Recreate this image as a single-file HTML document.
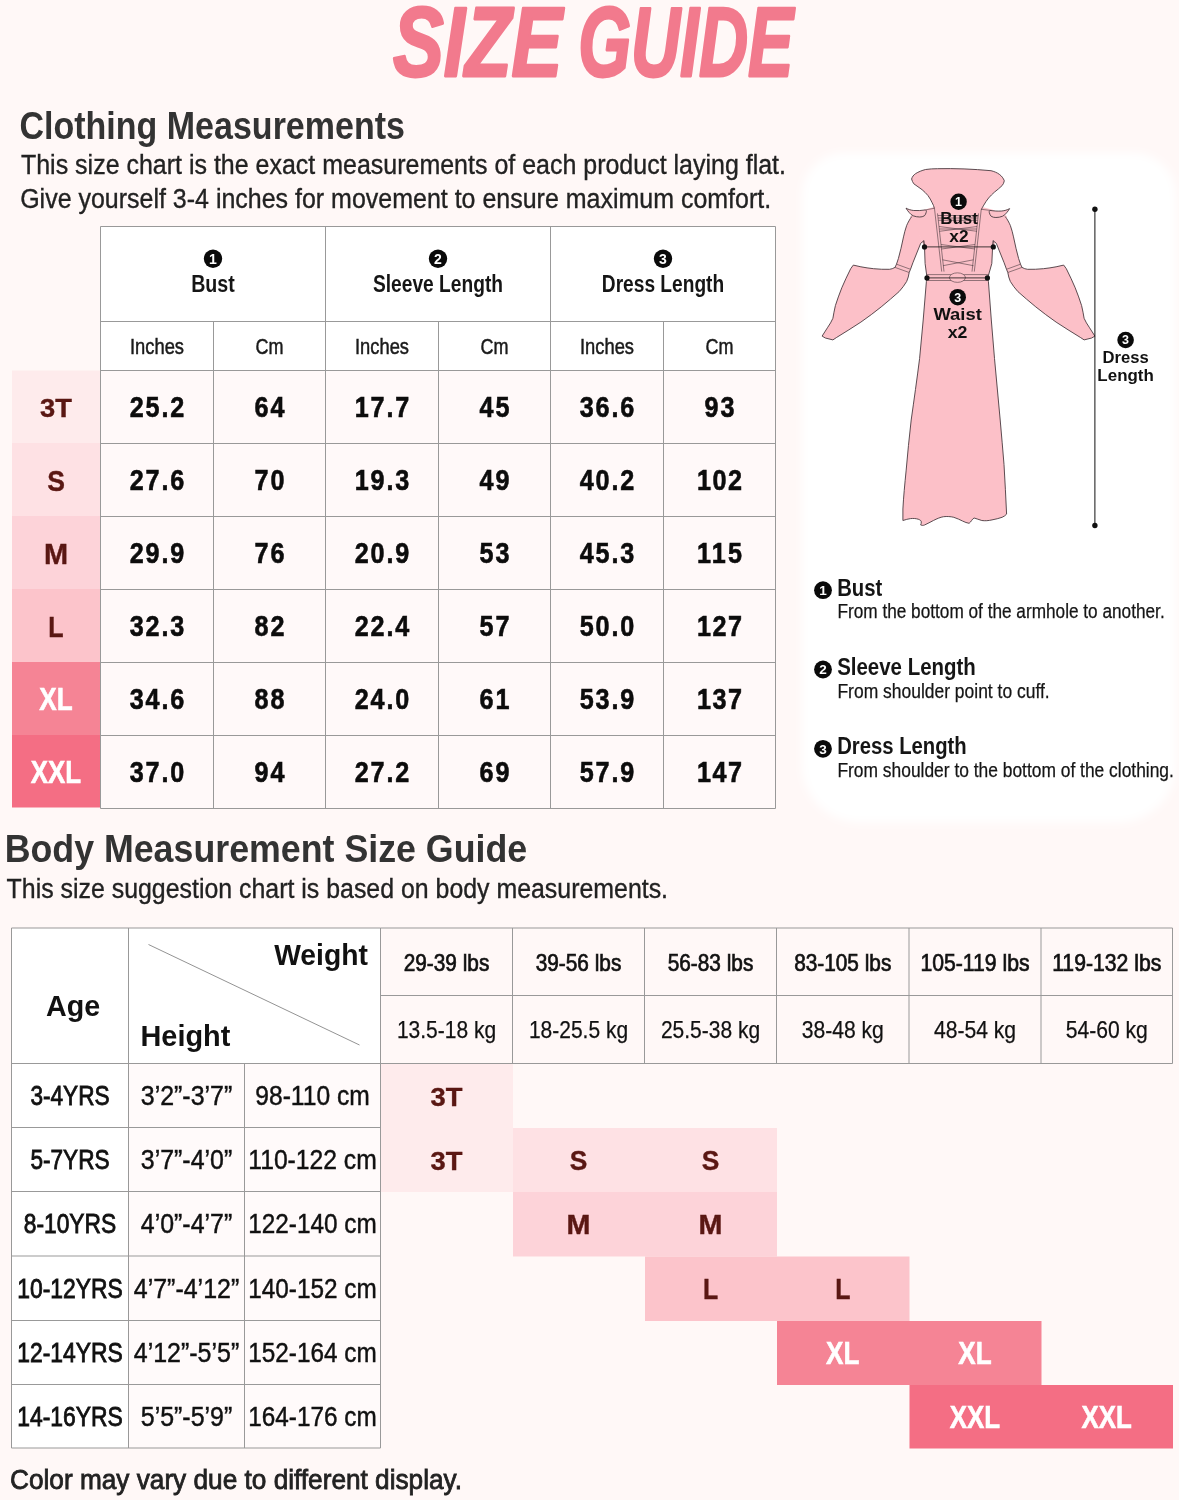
<!DOCTYPE html>
<html lang="en"><head><meta charset="utf-8"><title>Size Guide</title>
<style>
html,body{margin:0;padding:0;background:#fff8f7;}
svg{display:block;font-family:"Liberation Sans",sans-serif;}
text{white-space:pre;}
</style></head><body>
<svg width="1179" height="1500" viewBox="0 0 1179 1500">
<defs><filter id="blur" x="-10%" y="-10%" width="120%" height="120%"><feGaussianBlur stdDeviation="4.5"/></filter></defs>
<rect x="0" y="0" width="1179.00" height="1500.00" fill="#fff8f7" />
<text x="392.96" y="75.60" font-size="99" font-weight="700" text-anchor="start" fill="#f27a8d" textLength="169.21" lengthAdjust="spacingAndGlyphs" font-style="italic" stroke="#f27a8d" stroke-width="2.8" stroke-linejoin="round">SIZE</text>
<text x="578.16" y="75.60" font-size="99" font-weight="700" text-anchor="start" fill="#f27a8d" textLength="215.21" lengthAdjust="spacingAndGlyphs" font-style="italic" stroke="#f27a8d" stroke-width="2.8" stroke-linejoin="round">GUIDE</text>
<text x="19.49" y="138.50" font-size="38.5" font-weight="700" text-anchor="start" fill="#333" textLength="385.46" lengthAdjust="spacingAndGlyphs">Clothing Measurements</text>
<text x="20.98" y="174.00" font-size="27" font-weight="400" text-anchor="start" fill="#222" textLength="765.03" lengthAdjust="spacingAndGlyphs" stroke="#222" stroke-width="0.35">This size chart is the exact measurements of each product laying flat.</text>
<text x="20.18" y="208.00" font-size="27" font-weight="400" text-anchor="start" fill="#222" textLength="750.93" lengthAdjust="spacingAndGlyphs" stroke="#222" stroke-width="0.35">Give yourself 3-4 inches for movement to ensure maximum comfort.</text>
<path d="M844,153 H1134 A42,42 0 0 1 1176,195 V764.5 A58,58 0 0 1 1118,822.5 H860 A58,58 0 0 1 802,764.5 V195 A42,42 0 0 1 844,153 Z" fill="#ffffff" filter="url(#blur)"/>
<rect x="100.5" y="226.5" width="675.00" height="144.00" fill="#ffffff" />
<rect x="100.5" y="370.5" width="675.00" height="438.00" fill="#fff9f9" />
<rect x="12" y="370.5" width="88.00" height="72.50" fill="#feebec" />
<rect x="12" y="443.0" width="88.00" height="73.00" fill="#fee1e4" />
<rect x="12" y="516.0" width="88.00" height="73.00" fill="#fdd3d9" />
<rect x="12" y="589.0" width="88.00" height="73.00" fill="#fcc4cb" />
<rect x="12" y="662.0" width="88.00" height="73.00" fill="#f58495" />
<rect x="12" y="735.0" width="88.00" height="72.50" fill="#f46e84" />
<line x1="100.5" y1="226.5" x2="775.5" y2="226.5" stroke="#999999" stroke-width="1"/>
<line x1="100.5" y1="321.5" x2="775.5" y2="321.5" stroke="#999999" stroke-width="1"/>
<line x1="100.5" y1="370.5" x2="775.5" y2="370.5" stroke="#999999" stroke-width="1"/>
<line x1="100.5" y1="443.5" x2="775.5" y2="443.5" stroke="#999999" stroke-width="1"/>
<line x1="100.5" y1="516.5" x2="775.5" y2="516.5" stroke="#999999" stroke-width="1"/>
<line x1="100.5" y1="589.5" x2="775.5" y2="589.5" stroke="#999999" stroke-width="1"/>
<line x1="100.5" y1="662.5" x2="775.5" y2="662.5" stroke="#999999" stroke-width="1"/>
<line x1="100.5" y1="735.5" x2="775.5" y2="735.5" stroke="#999999" stroke-width="1"/>
<line x1="100.5" y1="808.5" x2="775.5" y2="808.5" stroke="#999999" stroke-width="1"/>
<line x1="100.5" y1="226.5" x2="100.5" y2="808.5" stroke="#999999" stroke-width="1"/>
<line x1="213.5" y1="321.5" x2="213.5" y2="808.5" stroke="#999999" stroke-width="1"/>
<line x1="325.5" y1="226.5" x2="325.5" y2="808.5" stroke="#999999" stroke-width="1"/>
<line x1="438.5" y1="321.5" x2="438.5" y2="808.5" stroke="#999999" stroke-width="1"/>
<line x1="550.5" y1="226.5" x2="550.5" y2="808.5" stroke="#999999" stroke-width="1"/>
<line x1="663.5" y1="321.5" x2="663.5" y2="808.5" stroke="#999999" stroke-width="1"/>
<line x1="775.5" y1="226.5" x2="775.5" y2="808.5" stroke="#999999" stroke-width="1"/>
<circle cx="213.0" cy="258.8" r="9.2" fill="#0a0a0a"/>
<text x="213.0" y="263.77" font-size="14.0" font-weight="700" text-anchor="middle" fill="#fff">1</text>
<text x="213.00" y="292.30" font-size="23.5" font-weight="700" text-anchor="middle" fill="#151515" textLength="43.62" lengthAdjust="spacingAndGlyphs">Bust</text>
<circle cx="438.0" cy="258.8" r="9.2" fill="#0a0a0a"/>
<text x="438.0" y="263.77" font-size="14.0" font-weight="700" text-anchor="middle" fill="#fff">2</text>
<text x="438.00" y="292.30" font-size="23.5" font-weight="700" text-anchor="middle" fill="#151515" textLength="130.12" lengthAdjust="spacingAndGlyphs">Sleeve Length</text>
<circle cx="663.0" cy="258.8" r="9.2" fill="#0a0a0a"/>
<text x="663.0" y="263.77" font-size="14.0" font-weight="700" text-anchor="middle" fill="#fff">3</text>
<text x="663.00" y="292.30" font-size="23.5" font-weight="700" text-anchor="middle" fill="#151515" textLength="122.31" lengthAdjust="spacingAndGlyphs">Dress Length</text>
<text x="157.00" y="354.00" font-size="22" font-weight="400" text-anchor="middle" fill="#1a1a1a" textLength="53.98" lengthAdjust="spacingAndGlyphs" stroke="#1a1a1a" stroke-width="0.5">Inches</text>
<text x="269.50" y="354.00" font-size="22" font-weight="400" text-anchor="middle" fill="#1a1a1a" textLength="27.98" lengthAdjust="spacingAndGlyphs" stroke="#1a1a1a" stroke-width="0.5">Cm</text>
<text x="382.00" y="354.00" font-size="22" font-weight="400" text-anchor="middle" fill="#1a1a1a" textLength="53.98" lengthAdjust="spacingAndGlyphs" stroke="#1a1a1a" stroke-width="0.5">Inches</text>
<text x="494.50" y="354.00" font-size="22" font-weight="400" text-anchor="middle" fill="#1a1a1a" textLength="27.98" lengthAdjust="spacingAndGlyphs" stroke="#1a1a1a" stroke-width="0.5">Cm</text>
<text x="607.00" y="354.00" font-size="22" font-weight="400" text-anchor="middle" fill="#1a1a1a" textLength="53.98" lengthAdjust="spacingAndGlyphs" stroke="#1a1a1a" stroke-width="0.5">Inches</text>
<text x="719.50" y="354.00" font-size="22" font-weight="400" text-anchor="middle" fill="#1a1a1a" textLength="27.98" lengthAdjust="spacingAndGlyphs" stroke="#1a1a1a" stroke-width="0.5">Cm</text>
<text x="56.00" y="416.90" font-size="25.5" font-weight="700" text-anchor="middle" fill="#5a1713" textLength="31.80" lengthAdjust="spacingAndGlyphs" stroke="#5a1713" stroke-width="0.4">3T</text>
<text transform="translate(157.00,417.20) scale(0.84,1)" font-size="30" font-weight="700" text-anchor="middle" fill="#0c0c0c" textLength="64.64" lengthAdjust="spacing" stroke="#0c0c0c" stroke-width="0.6">25.2</text>
<text transform="translate(269.50,417.20) scale(0.84,1)" font-size="30" font-weight="700" text-anchor="middle" fill="#0c0c0c" textLength="35.71" lengthAdjust="spacing" stroke="#0c0c0c" stroke-width="0.6">64</text>
<text transform="translate(382.00,417.20) scale(0.84,1)" font-size="30" font-weight="700" text-anchor="middle" fill="#0c0c0c" textLength="64.64" lengthAdjust="spacing" stroke="#0c0c0c" stroke-width="0.6">17.7</text>
<text transform="translate(494.50,417.20) scale(0.84,1)" font-size="30" font-weight="700" text-anchor="middle" fill="#0c0c0c" textLength="35.71" lengthAdjust="spacing" stroke="#0c0c0c" stroke-width="0.6">45</text>
<text transform="translate(607.00,417.20) scale(0.84,1)" font-size="30" font-weight="700" text-anchor="middle" fill="#0c0c0c" textLength="64.64" lengthAdjust="spacing" stroke="#0c0c0c" stroke-width="0.6">36.6</text>
<text transform="translate(719.50,417.20) scale(0.84,1)" font-size="30" font-weight="700" text-anchor="middle" fill="#0c0c0c" textLength="35.71" lengthAdjust="spacing" stroke="#0c0c0c" stroke-width="0.6">93</text>
<text x="56.00" y="490.80" font-size="30" font-weight="700" text-anchor="middle" fill="#5a1713" textLength="17.70" lengthAdjust="spacingAndGlyphs" stroke="#5a1713" stroke-width="0.4">S</text>
<text transform="translate(157.00,490.20) scale(0.84,1)" font-size="30" font-weight="700" text-anchor="middle" fill="#0c0c0c" textLength="64.64" lengthAdjust="spacing" stroke="#0c0c0c" stroke-width="0.6">27.6</text>
<text transform="translate(269.50,490.20) scale(0.84,1)" font-size="30" font-weight="700" text-anchor="middle" fill="#0c0c0c" textLength="35.71" lengthAdjust="spacing" stroke="#0c0c0c" stroke-width="0.6">70</text>
<text transform="translate(382.00,490.20) scale(0.84,1)" font-size="30" font-weight="700" text-anchor="middle" fill="#0c0c0c" textLength="64.64" lengthAdjust="spacing" stroke="#0c0c0c" stroke-width="0.6">19.3</text>
<text transform="translate(494.50,490.20) scale(0.84,1)" font-size="30" font-weight="700" text-anchor="middle" fill="#0c0c0c" textLength="35.71" lengthAdjust="spacing" stroke="#0c0c0c" stroke-width="0.6">49</text>
<text transform="translate(607.00,490.20) scale(0.84,1)" font-size="30" font-weight="700" text-anchor="middle" fill="#0c0c0c" textLength="64.64" lengthAdjust="spacing" stroke="#0c0c0c" stroke-width="0.6">40.2</text>
<text transform="translate(719.50,490.20) scale(0.84,1)" font-size="30" font-weight="700" text-anchor="middle" fill="#0c0c0c" textLength="53.57" lengthAdjust="spacing" stroke="#0c0c0c" stroke-width="0.6">102</text>
<text x="56.00" y="563.80" font-size="30" font-weight="700" text-anchor="middle" fill="#5a1713" textLength="24.10" lengthAdjust="spacingAndGlyphs" stroke="#5a1713" stroke-width="0.4">M</text>
<text transform="translate(157.00,563.20) scale(0.84,1)" font-size="30" font-weight="700" text-anchor="middle" fill="#0c0c0c" textLength="64.64" lengthAdjust="spacing" stroke="#0c0c0c" stroke-width="0.6">29.9</text>
<text transform="translate(269.50,563.20) scale(0.84,1)" font-size="30" font-weight="700" text-anchor="middle" fill="#0c0c0c" textLength="35.71" lengthAdjust="spacing" stroke="#0c0c0c" stroke-width="0.6">76</text>
<text transform="translate(382.00,563.20) scale(0.84,1)" font-size="30" font-weight="700" text-anchor="middle" fill="#0c0c0c" textLength="64.64" lengthAdjust="spacing" stroke="#0c0c0c" stroke-width="0.6">20.9</text>
<text transform="translate(494.50,563.20) scale(0.84,1)" font-size="30" font-weight="700" text-anchor="middle" fill="#0c0c0c" textLength="35.71" lengthAdjust="spacing" stroke="#0c0c0c" stroke-width="0.6">53</text>
<text transform="translate(607.00,563.20) scale(0.84,1)" font-size="30" font-weight="700" text-anchor="middle" fill="#0c0c0c" textLength="64.64" lengthAdjust="spacing" stroke="#0c0c0c" stroke-width="0.6">45.3</text>
<text transform="translate(719.50,563.20) scale(0.84,1)" font-size="30" font-weight="700" text-anchor="middle" fill="#0c0c0c" textLength="53.57" lengthAdjust="spacing" stroke="#0c0c0c" stroke-width="0.6">115</text>
<text x="56.00" y="636.80" font-size="30" font-weight="700" text-anchor="middle" fill="#5a1713" textLength="15.30" lengthAdjust="spacingAndGlyphs" stroke="#5a1713" stroke-width="0.4">L</text>
<text transform="translate(157.00,636.20) scale(0.84,1)" font-size="30" font-weight="700" text-anchor="middle" fill="#0c0c0c" textLength="64.64" lengthAdjust="spacing" stroke="#0c0c0c" stroke-width="0.6">32.3</text>
<text transform="translate(269.50,636.20) scale(0.84,1)" font-size="30" font-weight="700" text-anchor="middle" fill="#0c0c0c" textLength="35.71" lengthAdjust="spacing" stroke="#0c0c0c" stroke-width="0.6">82</text>
<text transform="translate(382.00,636.20) scale(0.84,1)" font-size="30" font-weight="700" text-anchor="middle" fill="#0c0c0c" textLength="64.64" lengthAdjust="spacing" stroke="#0c0c0c" stroke-width="0.6">22.4</text>
<text transform="translate(494.50,636.20) scale(0.84,1)" font-size="30" font-weight="700" text-anchor="middle" fill="#0c0c0c" textLength="35.71" lengthAdjust="spacing" stroke="#0c0c0c" stroke-width="0.6">57</text>
<text transform="translate(607.00,636.20) scale(0.84,1)" font-size="30" font-weight="700" text-anchor="middle" fill="#0c0c0c" textLength="64.64" lengthAdjust="spacing" stroke="#0c0c0c" stroke-width="0.6">50.0</text>
<text transform="translate(719.50,636.20) scale(0.84,1)" font-size="30" font-weight="700" text-anchor="middle" fill="#0c0c0c" textLength="53.57" lengthAdjust="spacing" stroke="#0c0c0c" stroke-width="0.6">127</text>
<text x="56.00" y="709.80" font-size="31.5" font-weight="700" text-anchor="middle" fill="#ffffff" textLength="33.34" lengthAdjust="spacingAndGlyphs" stroke="#ffffff" stroke-width="0.6">XL</text>
<text transform="translate(157.00,709.20) scale(0.84,1)" font-size="30" font-weight="700" text-anchor="middle" fill="#0c0c0c" textLength="64.64" lengthAdjust="spacing" stroke="#0c0c0c" stroke-width="0.6">34.6</text>
<text transform="translate(269.50,709.20) scale(0.84,1)" font-size="30" font-weight="700" text-anchor="middle" fill="#0c0c0c" textLength="35.71" lengthAdjust="spacing" stroke="#0c0c0c" stroke-width="0.6">88</text>
<text transform="translate(382.00,709.20) scale(0.84,1)" font-size="30" font-weight="700" text-anchor="middle" fill="#0c0c0c" textLength="64.64" lengthAdjust="spacing" stroke="#0c0c0c" stroke-width="0.6">24.0</text>
<text transform="translate(494.50,709.20) scale(0.84,1)" font-size="30" font-weight="700" text-anchor="middle" fill="#0c0c0c" textLength="35.71" lengthAdjust="spacing" stroke="#0c0c0c" stroke-width="0.6">61</text>
<text transform="translate(607.00,709.20) scale(0.84,1)" font-size="30" font-weight="700" text-anchor="middle" fill="#0c0c0c" textLength="64.64" lengthAdjust="spacing" stroke="#0c0c0c" stroke-width="0.6">53.9</text>
<text transform="translate(719.50,709.20) scale(0.84,1)" font-size="30" font-weight="700" text-anchor="middle" fill="#0c0c0c" textLength="53.57" lengthAdjust="spacing" stroke="#0c0c0c" stroke-width="0.6">137</text>
<text x="56.00" y="782.80" font-size="31.5" font-weight="700" text-anchor="middle" fill="#ffffff" textLength="50.34" lengthAdjust="spacingAndGlyphs" stroke="#ffffff" stroke-width="0.6">XXL</text>
<text transform="translate(157.00,782.20) scale(0.84,1)" font-size="30" font-weight="700" text-anchor="middle" fill="#0c0c0c" textLength="64.64" lengthAdjust="spacing" stroke="#0c0c0c" stroke-width="0.6">37.0</text>
<text transform="translate(269.50,782.20) scale(0.84,1)" font-size="30" font-weight="700" text-anchor="middle" fill="#0c0c0c" textLength="35.71" lengthAdjust="spacing" stroke="#0c0c0c" stroke-width="0.6">94</text>
<text transform="translate(382.00,782.20) scale(0.84,1)" font-size="30" font-weight="700" text-anchor="middle" fill="#0c0c0c" textLength="64.64" lengthAdjust="spacing" stroke="#0c0c0c" stroke-width="0.6">27.2</text>
<text transform="translate(494.50,782.20) scale(0.84,1)" font-size="30" font-weight="700" text-anchor="middle" fill="#0c0c0c" textLength="35.71" lengthAdjust="spacing" stroke="#0c0c0c" stroke-width="0.6">69</text>
<text transform="translate(607.00,782.20) scale(0.84,1)" font-size="30" font-weight="700" text-anchor="middle" fill="#0c0c0c" textLength="64.64" lengthAdjust="spacing" stroke="#0c0c0c" stroke-width="0.6">57.9</text>
<text transform="translate(719.50,782.20) scale(0.84,1)" font-size="30" font-weight="700" text-anchor="middle" fill="#0c0c0c" textLength="53.57" lengthAdjust="spacing" stroke="#0c0c0c" stroke-width="0.6">147</text>
<circle cx="823" cy="590.2" r="8.9" fill="#0a0a0a"/>
<text x="823" y="594.99" font-size="13.5" font-weight="700" text-anchor="middle" fill="#fff">1</text>
<text x="837.20" y="595.60" font-size="23.3" font-weight="700" text-anchor="start" fill="#151515" textLength="45.10" lengthAdjust="spacingAndGlyphs">Bust</text>
<text x="837.44" y="618.30" font-size="19.3" font-weight="400" text-anchor="start" fill="#151515" textLength="327.24" lengthAdjust="spacingAndGlyphs" stroke="#151515" stroke-width="0.25">From the bottom of the armhole to another.</text>
<circle cx="823" cy="669.5" r="8.9" fill="#0a0a0a"/>
<text x="823" y="674.29" font-size="13.5" font-weight="700" text-anchor="middle" fill="#fff">2</text>
<text x="837.20" y="674.90" font-size="23.3" font-weight="700" text-anchor="start" fill="#151515" textLength="138.60" lengthAdjust="spacingAndGlyphs">Sleeve Length</text>
<text x="837.44" y="697.60" font-size="19.3" font-weight="400" text-anchor="start" fill="#151515" textLength="212.24" lengthAdjust="spacingAndGlyphs" stroke="#151515" stroke-width="0.25">From shoulder point to cuff.</text>
<circle cx="823" cy="748.8000000000001" r="8.9" fill="#0a0a0a"/>
<text x="823" y="753.59" font-size="13.5" font-weight="700" text-anchor="middle" fill="#fff">3</text>
<text x="837.20" y="754.20" font-size="23.3" font-weight="700" text-anchor="start" fill="#151515" textLength="129.50" lengthAdjust="spacingAndGlyphs">Dress Length</text>
<text x="837.44" y="776.90" font-size="19.3" font-weight="400" text-anchor="start" fill="#151515" textLength="336.44" lengthAdjust="spacingAndGlyphs" stroke="#151515" stroke-width="0.25">From shoulder to the bottom of the clothing.</text>
<g id="dress" stroke="#4a3a3f" stroke-width="0.9" stroke-linejoin="round" fill="#fcc0c8">
<!-- shoulder / upper bodice fill (no outline) -->
<path stroke="none" d="M910,216 L925,209.5 L934,207 L982,207 L992,209.5 L1007,216 L993.3,247 L924.5,247 Z"/>
<!-- left sleeve (open path: no armhole seam) -->
<path d="M911.8,216.5 C909.5,219.5 908,222.5 906.7,225.4 C905.3,229.5 904.3,233 903.5,236.9 L901,248.3 L898.4,258.5 L896.5,264.2 L895,267.4 C893,268.5 891.5,269.1 889.5,269.3 C884,269.5 879,269.2 873.6,268.7 C869,268.2 865,267.6 860.9,266.8 L853.3,265.1 L850.7,268.7 C847.5,275 844.5,281.5 841.8,287.8 C839.3,294 837.2,300 835.4,305.6 C834.3,310 833.6,314.5 832.9,318.3 C831.5,321.5 829.8,324.3 827.8,327.2 C826,330.2 824,333.2 822.1,336.1 L825.3,338 L832.9,339.9 L836.7,337.4 C845,332.3 853,327.3 860.9,322.1 C868,317.2 874.8,312 881.2,306.9 C887.5,301.8 893.5,296.5 899.1,291.6 C902,288.5 904.5,285 906.7,281.4 C908,278.5 908.7,275.5 909.2,272.5 L910.5,269.3 C912,265 913.7,260.5 915.6,256 C917.2,251.8 919,247.5 920.7,243.3 L923.9,240.7 L924.5,246.8"/>
<!-- right sleeve = mirror -->
<path transform="translate(1917,0) scale(-1,1)" d="M911.8,216.5 C909.5,219.5 908,222.5 906.7,225.4 C905.3,229.5 904.3,233 903.5,236.9 L901,248.3 L898.4,258.5 L896.5,264.2 L895,267.4 C893,268.5 891.5,269.1 889.5,269.3 C884,269.5 879,269.2 873.6,268.7 C869,268.2 865,267.6 860.9,266.8 L853.3,265.1 L850.7,268.7 C847.5,275 844.5,281.5 841.8,287.8 C839.3,294 837.2,300 835.4,305.6 C834.3,310 833.6,314.5 832.9,318.3 C831.5,321.5 829.8,324.3 827.8,327.2 C826,330.2 824,333.2 822.1,336.1 L825.3,338 L832.9,339.9 L836.7,337.4 C845,332.3 853,327.3 860.9,322.1 C868,317.2 874.8,312 881.2,306.9 C887.5,301.8 893.5,296.5 899.1,291.6 C902,288.5 904.5,285 906.7,281.4 C908,278.5 908.7,275.5 909.2,272.5 L910.5,269.3 C912,265 913.7,260.5 915.6,256 C917.2,251.8 919,247.5 920.7,243.3 L923.9,240.7 L924.5,246.8"/>
<!-- torso + skirt (open at the top) -->
<path d="M923.9,240.7 L924.5,246.8 L925.1,263.6 L927,277.6 L926.4,281.4 C924.5,307 922,333 919.6,358.5 C917,379 914,400 911.2,420 C909.3,437 907.5,454 906.1,470.9 C904.8,484 903.5,497 902.9,509 L902.9,520.5 C905.5,519.6 908,519 910.5,518.6 C913.5,518.3 916,518.5 918.2,519.2 C920,519.8 921.2,520.6 921.3,521.8 C921.4,523 921,524 920.7,525 C922,525.6 923.3,525.5 924.5,525 C927.5,523.7 930.5,522 933.4,520.5 C937,518.7 940.3,517.2 943.6,516.7 C947,516.3 950.5,516.5 953.8,517.3 C957,518.3 960,519.8 962.7,521.1 C965,522.2 967,523 969.1,523.3 C970.2,522.5 970.9,521.5 971.6,520.5 C972.3,519.5 973,518.5 974.1,518 C976.5,518.5 979,519.8 981.8,520.5 C985,521 988.5,520.7 992,519.9 C995.5,519.2 999,518.4 1002.1,517.3 C1004,516.5 1005.5,515.4 1006.6,514.1 C1005.8,497.5 1005,481 1004,464.5 C1002.8,449.5 1001.5,434.8 1000.2,420 C998.4,399.5 996.5,379 994.5,358.5 C992.5,333 990,307 988.4,281.4 L987.8,277.6 L991.8,263.6 L992.6,246.8 L993.1,240.7"/>
<!-- collar -->
<path d="M934.5,208.7 C934,206.5 933.2,204.7 932.2,202.8 C931,200.2 929.6,197.8 928,195.6 C926.2,193.4 924.2,191.5 922.1,189.7 C919.5,187.7 916.5,185.8 913.8,183.8 C912.8,182.3 912,180.7 911.6,179 C912.2,176.8 913.6,175 915.5,173.7 C918.5,171.8 922,170.4 925.6,169.5 C929.5,168.9 933.5,168.7 937.5,168.7 C955,168.3 973,169 991,170.7 C994,171.4 997,172.6 999.3,174.3 C1001.6,176 1003.4,178.2 1004.3,180.8 C1004,182.5 1003.3,184.1 1002.2,185.5 C999.8,187.8 997.2,190 994.5,192.1 C992.4,193.9 990.4,195.9 988.6,198 C986.8,200.2 985.2,202.6 983.8,205.1 C982.8,206.6 982,208.2 981.2,209.9"/>
<!-- epaulettes -->
<path d="M906,208.1 C908.3,209.5 911,210.2 913.8,210.5 C917.8,210.8 921.7,210.5 925.6,209.9 C926.4,210.6 926.6,211.4 926.2,212.3 C925.9,213.7 925.3,214.9 924.4,215.8 C923,216.7 921.4,217 919.7,217 C917.4,217 915.2,216.6 913.2,215.8 C911.5,215 910.1,213.8 909,212.3 C907.8,211 906.8,209.6 906,208.1 Z"/>
<path transform="translate(1915.6,0.5) scale(-1,1)" d="M906,208.1 C908.3,209.5 911,210.2 913.8,210.5 C917.8,210.8 921.7,210.5 925.6,209.9 C926.4,210.6 926.6,211.4 926.2,212.3 C925.9,213.7 925.3,214.9 924.4,215.8 C923,216.7 921.4,217 919.7,217 C917.4,217 915.2,216.6 913.2,215.8 C911.5,215 910.1,213.8 909,212.3 C907.8,211 906.8,209.6 906,208.1 Z"/>
<g fill="none" stroke-width="0.6">
<path d="M925.6,209.9 L934.2,208.3 M990,210.4 L981.4,209.3"/>
<!-- cuff bands -->
<path d="M896.5,264.2 L910.5,269.3 M895,267.4 L909.2,272.5"/>
<path d="M1020.5,264.2 L1006.5,269.3 M1022,267.4 L1007.8,272.5"/>
<!-- corset panel -->
<path d="M934.5,208.7 L941.7,271.6 M937.5,213.4 L944,271.6 M981.2,209.9 L974.3,271.6 M978.5,213.4 L972,271.6"/>
<path d="M937.8,215.5 L978.3,215.5 M938,218 L978,218 M938.3,220.3 L977.8,220.3"/>
<path d="M939,226.5 L977,231.3 M977,226.5 L939.5,231.3 M939.3,229 L976.8,229 M941,244.5 L975,249 M975,244.5 L941.5,249 M942.5,259.8 L973.5,265.7 M973.5,259.8 L943,265.7"/>
<!-- belt -->
<path d="M926.6,274.6 L988.7,274.6 M926.6,280.5 L988.4,280.5"/>
<ellipse cx="957.4" cy="277.6" rx="8" ry="4.75" fill="#fcc0c8"/>
</g>
</g>
<!-- measurement lines -->
<g stroke="#111" stroke-width="0.8" fill="#111">
<line x1="924.5" y1="246.9" x2="993.3" y2="246.9"/>
<circle cx="924.5" cy="246.9" r="2.6" stroke="none"/><circle cx="993.3" cy="246.9" r="2.6" stroke="none"/>
<line x1="927" y1="277.9" x2="987.4" y2="277.9"/>
<circle cx="927" cy="277.9" r="2.6" stroke="none"/><circle cx="987.4" cy="277.9" r="2.6" stroke="none"/>
<line x1="1094.9" y1="209.3" x2="1094.9" y2="525.5" stroke-width="1"/>
<circle cx="1094.9" cy="209.3" r="2.7" stroke="none"/><circle cx="1094.9" cy="525.5" r="2.7" stroke="none"/>
</g>

<circle cx="958.6" cy="201.8" r="8.2" fill="#0a0a0a"/>
<text x="958.6" y="206.24" font-size="12.5" font-weight="700" text-anchor="middle" fill="#fff">1</text>
<text x="959.10" y="223.50" font-size="15.8" font-weight="700" text-anchor="middle" fill="#111" textLength="37.72" lengthAdjust="spacingAndGlyphs">Bust</text>
<text x="958.90" y="241.70" font-size="15.8" font-weight="700" text-anchor="middle" fill="#111" textLength="19.22" lengthAdjust="spacingAndGlyphs">x2</text>
<circle cx="957.7" cy="297.2" r="8.3" fill="#0a0a0a"/>
<text x="957.7" y="301.64" font-size="12.5" font-weight="700" text-anchor="middle" fill="#fff">3</text>
<text x="957.60" y="320.00" font-size="15.8" font-weight="700" text-anchor="middle" fill="#111" textLength="48.32" lengthAdjust="spacingAndGlyphs">Waist</text>
<text x="957.60" y="338.30" font-size="15.8" font-weight="700" text-anchor="middle" fill="#111" textLength="19.72" lengthAdjust="spacingAndGlyphs">x2</text>
<circle cx="1125.6" cy="340" r="8.3" fill="#0a0a0a"/>
<text x="1125.6" y="344.44" font-size="12.5" font-weight="700" text-anchor="middle" fill="#fff">3</text>
<text x="1125.60" y="363.40" font-size="15.8" font-weight="700" text-anchor="middle" fill="#111" textLength="46.22" lengthAdjust="spacingAndGlyphs">Dress</text>
<text x="1125.60" y="380.70" font-size="15.8" font-weight="700" text-anchor="middle" fill="#111" textLength="56.42" lengthAdjust="spacingAndGlyphs">Length</text>
<text x="4.63" y="862.00" font-size="39.5" font-weight="700" text-anchor="start" fill="#333" textLength="522.55" lengthAdjust="spacingAndGlyphs">Body Measurement Size Guide</text>
<text x="6.58" y="898.00" font-size="27" font-weight="400" text-anchor="start" fill="#222" textLength="661.43" lengthAdjust="spacingAndGlyphs" stroke="#222" stroke-width="0.35">This size suggestion chart is based on body measurements.</text>
<rect x="11.5" y="928" width="369.00" height="135.50" fill="#ffffff" />
<rect x="11.5" y="1063.5" width="117.00" height="384.50" fill="#ffffff" />
<rect x="128.5" y="1063.5" width="252.00" height="384.50" fill="#fffafa" />
<rect x="381.0" y="1064.0" width="132.00" height="64.00" fill="#feebec" />
<rect x="381.0" y="1128.0" width="132.00" height="64.00" fill="#feebec" />
<rect x="513.0" y="1128.0" width="264.00" height="64.00" fill="#fee1e4" />
<rect x="513.0" y="1192.0" width="264.00" height="64.50" fill="#fdd3d9" />
<rect x="645.0" y="1256.5" width="264.50" height="64.50" fill="#fcc4cb" />
<rect x="777.0" y="1321.0" width="264.50" height="64.00" fill="#f58495" />
<rect x="909.5" y="1385.0" width="263.50" height="63.50" fill="#f46e84" />
<text x="446.50" y="1106.00" font-size="26.5" font-weight="700" text-anchor="middle" fill="#5a1713" textLength="31.88" lengthAdjust="spacingAndGlyphs" stroke="#5a1713" stroke-width="0.4">3T</text>
<text x="446.50" y="1170.00" font-size="26.5" font-weight="700" text-anchor="middle" fill="#5a1713" textLength="31.88" lengthAdjust="spacingAndGlyphs" stroke="#5a1713" stroke-width="0.4">3T</text>
<text x="578.50" y="1170.00" font-size="28.5" font-weight="700" text-anchor="middle" fill="#5a1713" textLength="17.57" lengthAdjust="spacingAndGlyphs" stroke="#5a1713" stroke-width="0.4">S</text>
<text x="710.50" y="1170.00" font-size="28.5" font-weight="700" text-anchor="middle" fill="#5a1713" textLength="17.57" lengthAdjust="spacingAndGlyphs" stroke="#5a1713" stroke-width="0.4">S</text>
<text x="578.50" y="1234.00" font-size="28.5" font-weight="700" text-anchor="middle" fill="#5a1713" textLength="23.96" lengthAdjust="spacingAndGlyphs" stroke="#5a1713" stroke-width="0.4">M</text>
<text x="710.50" y="1234.00" font-size="28.5" font-weight="700" text-anchor="middle" fill="#5a1713" textLength="23.96" lengthAdjust="spacingAndGlyphs" stroke="#5a1713" stroke-width="0.4">M</text>
<text x="710.50" y="1298.50" font-size="29" font-weight="700" text-anchor="middle" fill="#5a1713" textLength="15.21" lengthAdjust="spacingAndGlyphs" stroke="#5a1713" stroke-width="0.4">L</text>
<text x="842.75" y="1298.50" font-size="29" font-weight="700" text-anchor="middle" fill="#5a1713" textLength="15.21" lengthAdjust="spacingAndGlyphs" stroke="#5a1713" stroke-width="0.4">L</text>
<text x="842.75" y="1364.10" font-size="31.5" font-weight="700" text-anchor="middle" fill="#ffffff" textLength="33.34" lengthAdjust="spacingAndGlyphs" stroke="#ffffff" stroke-width="0.6">XL</text>
<text x="975.00" y="1364.10" font-size="31.5" font-weight="700" text-anchor="middle" fill="#ffffff" textLength="33.34" lengthAdjust="spacingAndGlyphs" stroke="#ffffff" stroke-width="0.6">XL</text>
<text x="975.00" y="1428.10" font-size="31.5" font-weight="700" text-anchor="middle" fill="#ffffff" textLength="50.34" lengthAdjust="spacingAndGlyphs" stroke="#ffffff" stroke-width="0.6">XXL</text>
<text x="1106.75" y="1428.10" font-size="31.5" font-weight="700" text-anchor="middle" fill="#ffffff" textLength="50.34" lengthAdjust="spacingAndGlyphs" stroke="#ffffff" stroke-width="0.6">XXL</text>
<line x1="11.5" y1="928" x2="380.5" y2="928" stroke="#999999" stroke-width="1"/>
<line x1="11.5" y1="1063.5" x2="380.5" y2="1063.5" stroke="#999999" stroke-width="1"/>
<line x1="11.5" y1="1127.5" x2="380.5" y2="1127.5" stroke="#999999" stroke-width="1"/>
<line x1="11.5" y1="1191.5" x2="380.5" y2="1191.5" stroke="#999999" stroke-width="1"/>
<line x1="11.5" y1="1256" x2="380.5" y2="1256" stroke="#999999" stroke-width="1"/>
<line x1="11.5" y1="1320.5" x2="380.5" y2="1320.5" stroke="#999999" stroke-width="1"/>
<line x1="11.5" y1="1384.5" x2="380.5" y2="1384.5" stroke="#999999" stroke-width="1"/>
<line x1="11.5" y1="1448" x2="380.5" y2="1448" stroke="#999999" stroke-width="1"/>
<line x1="11.5" y1="928" x2="11.5" y2="1448" stroke="#999999" stroke-width="1"/>
<line x1="128.5" y1="928" x2="128.5" y2="1448" stroke="#999999" stroke-width="1"/>
<line x1="380.5" y1="928" x2="380.5" y2="1448" stroke="#999999" stroke-width="1"/>
<line x1="244.5" y1="1063.5" x2="244.5" y2="1448" stroke="#999999" stroke-width="1"/>
<line x1="380.5" y1="928" x2="1172.5" y2="928" stroke="#999999" stroke-width="1"/>
<line x1="380.5" y1="995.5" x2="1172.5" y2="995.5" stroke="#999999" stroke-width="1"/>
<line x1="380.5" y1="1063.5" x2="1172.5" y2="1063.5" stroke="#999999" stroke-width="1"/>
<line x1="512.5" y1="928" x2="512.5" y2="1063.5" stroke="#999999" stroke-width="1"/>
<line x1="644.5" y1="928" x2="644.5" y2="1063.5" stroke="#999999" stroke-width="1"/>
<line x1="776.5" y1="928" x2="776.5" y2="1063.5" stroke="#999999" stroke-width="1"/>
<line x1="909" y1="928" x2="909" y2="1063.5" stroke="#999999" stroke-width="1"/>
<line x1="1041" y1="928" x2="1041" y2="1063.5" stroke="#999999" stroke-width="1"/>
<line x1="1172.5" y1="928" x2="1172.5" y2="1063.5" stroke="#999999" stroke-width="1"/>
<line x1="148.5" y1="944.5" x2="359.5" y2="1045" stroke="#777" stroke-width="0.8"/>
<text x="73.20" y="1015.70" font-size="30" font-weight="700" text-anchor="middle" fill="#111" textLength="54.20" lengthAdjust="spacingAndGlyphs">Age</text>
<text x="321.00" y="964.80" font-size="30" font-weight="700" text-anchor="middle" fill="#111" textLength="93.70" lengthAdjust="spacingAndGlyphs">Weight</text>
<text x="185.40" y="1046.20" font-size="30" font-weight="700" text-anchor="middle" fill="#111" textLength="89.90" lengthAdjust="spacingAndGlyphs">Height</text>
<text x="446.50" y="970.60" font-size="24" font-weight="400" text-anchor="middle" fill="#111" textLength="85.66" lengthAdjust="spacingAndGlyphs" stroke="#111" stroke-width="0.7">29-39 lbs</text>
<text x="446.50" y="1038.20" font-size="24" font-weight="400" text-anchor="middle" fill="#111" textLength="99.16" lengthAdjust="spacingAndGlyphs" stroke="#111" stroke-width="0.25">13.5-18 kg</text>
<text x="578.50" y="970.60" font-size="24" font-weight="400" text-anchor="middle" fill="#111" textLength="85.66" lengthAdjust="spacingAndGlyphs" stroke="#111" stroke-width="0.7">39-56 lbs</text>
<text x="578.50" y="1038.20" font-size="24" font-weight="400" text-anchor="middle" fill="#111" textLength="99.16" lengthAdjust="spacingAndGlyphs" stroke="#111" stroke-width="0.25">18-25.5 kg</text>
<text x="710.50" y="970.60" font-size="24" font-weight="400" text-anchor="middle" fill="#111" textLength="85.66" lengthAdjust="spacingAndGlyphs" stroke="#111" stroke-width="0.7">56-83 lbs</text>
<text x="710.50" y="1038.20" font-size="24" font-weight="400" text-anchor="middle" fill="#111" textLength="99.16" lengthAdjust="spacingAndGlyphs" stroke="#111" stroke-width="0.25">25.5-38 kg</text>
<text x="842.75" y="970.60" font-size="24" font-weight="400" text-anchor="middle" fill="#111" textLength="97.16" lengthAdjust="spacingAndGlyphs" stroke="#111" stroke-width="0.7">83-105 lbs</text>
<text x="842.75" y="1038.20" font-size="24" font-weight="400" text-anchor="middle" fill="#111" textLength="82.16" lengthAdjust="spacingAndGlyphs" stroke="#111" stroke-width="0.25">38-48 kg</text>
<text x="975.00" y="970.60" font-size="24" font-weight="400" text-anchor="middle" fill="#111" textLength="109.16" lengthAdjust="spacingAndGlyphs" stroke="#111" stroke-width="0.7">105-119 lbs</text>
<text x="975.00" y="1038.20" font-size="24" font-weight="400" text-anchor="middle" fill="#111" textLength="82.16" lengthAdjust="spacingAndGlyphs" stroke="#111" stroke-width="0.25">48-54 kg</text>
<text x="1106.75" y="970.60" font-size="24" font-weight="400" text-anchor="middle" fill="#111" textLength="109.16" lengthAdjust="spacingAndGlyphs" stroke="#111" stroke-width="0.7">119-132 lbs</text>
<text x="1106.75" y="1038.20" font-size="24" font-weight="400" text-anchor="middle" fill="#111" textLength="82.16" lengthAdjust="spacingAndGlyphs" stroke="#111" stroke-width="0.25">54-60 kg</text>
<text x="70.00" y="1105.30" font-size="27" font-weight="400" text-anchor="middle" fill="#111" textLength="79.13" lengthAdjust="spacingAndGlyphs" stroke="#111" stroke-width="0.85">3-4YRS</text>
<text x="186.50" y="1105.30" font-size="27" font-weight="400" text-anchor="middle" fill="#111" textLength="91.43" lengthAdjust="spacingAndGlyphs" stroke="#111" stroke-width="0.45">3’2”-3’7”</text>
<text x="312.50" y="1105.30" font-size="27" font-weight="400" text-anchor="middle" fill="#111" textLength="114.43" lengthAdjust="spacingAndGlyphs" stroke="#111" stroke-width="0.45">98-110 cm</text>
<text x="70.00" y="1169.30" font-size="27" font-weight="400" text-anchor="middle" fill="#111" textLength="79.13" lengthAdjust="spacingAndGlyphs" stroke="#111" stroke-width="0.85">5-7YRS</text>
<text x="186.50" y="1169.30" font-size="27" font-weight="400" text-anchor="middle" fill="#111" textLength="91.43" lengthAdjust="spacingAndGlyphs" stroke="#111" stroke-width="0.45">3’7”-4’0”</text>
<text x="312.50" y="1169.30" font-size="27" font-weight="400" text-anchor="middle" fill="#111" textLength="128.43" lengthAdjust="spacingAndGlyphs" stroke="#111" stroke-width="0.45">110-122 cm</text>
<text x="70.00" y="1233.30" font-size="27" font-weight="400" text-anchor="middle" fill="#111" textLength="92.43" lengthAdjust="spacingAndGlyphs" stroke="#111" stroke-width="0.85">8-10YRS</text>
<text x="186.50" y="1233.30" font-size="27" font-weight="400" text-anchor="middle" fill="#111" textLength="91.43" lengthAdjust="spacingAndGlyphs" stroke="#111" stroke-width="0.45">4’0”-4’7”</text>
<text x="312.50" y="1233.30" font-size="27" font-weight="400" text-anchor="middle" fill="#111" textLength="128.43" lengthAdjust="spacingAndGlyphs" stroke="#111" stroke-width="0.45">122-140 cm</text>
<text x="70.00" y="1297.80" font-size="27" font-weight="400" text-anchor="middle" fill="#111" textLength="105.43" lengthAdjust="spacingAndGlyphs" stroke="#111" stroke-width="0.85">10-12YRS</text>
<text x="186.50" y="1297.80" font-size="27" font-weight="400" text-anchor="middle" fill="#111" textLength="105.43" lengthAdjust="spacingAndGlyphs" stroke="#111" stroke-width="0.45">4’7”-4’12”</text>
<text x="312.50" y="1297.80" font-size="27" font-weight="400" text-anchor="middle" fill="#111" textLength="128.43" lengthAdjust="spacingAndGlyphs" stroke="#111" stroke-width="0.45">140-152 cm</text>
<text x="70.00" y="1362.30" font-size="27" font-weight="400" text-anchor="middle" fill="#111" textLength="105.43" lengthAdjust="spacingAndGlyphs" stroke="#111" stroke-width="0.85">12-14YRS</text>
<text x="186.50" y="1362.30" font-size="27" font-weight="400" text-anchor="middle" fill="#111" textLength="105.43" lengthAdjust="spacingAndGlyphs" stroke="#111" stroke-width="0.45">4’12”-5’5”</text>
<text x="312.50" y="1362.30" font-size="27" font-weight="400" text-anchor="middle" fill="#111" textLength="128.43" lengthAdjust="spacingAndGlyphs" stroke="#111" stroke-width="0.45">152-164 cm</text>
<text x="70.00" y="1426.30" font-size="27" font-weight="400" text-anchor="middle" fill="#111" textLength="105.43" lengthAdjust="spacingAndGlyphs" stroke="#111" stroke-width="0.85">14-16YRS</text>
<text x="186.50" y="1426.30" font-size="27" font-weight="400" text-anchor="middle" fill="#111" textLength="91.43" lengthAdjust="spacingAndGlyphs" stroke="#111" stroke-width="0.45">5’5”-5’9”</text>
<text x="312.50" y="1426.30" font-size="27" font-weight="400" text-anchor="middle" fill="#111" textLength="128.43" lengthAdjust="spacingAndGlyphs" stroke="#111" stroke-width="0.45">164-176 cm</text>
<text x="10.05" y="1489.30" font-size="27.5" font-weight="400" text-anchor="start" fill="#222" textLength="451.98" lengthAdjust="spacingAndGlyphs" stroke="#222" stroke-width="0.8">Color may vary due to different display.</text>
</svg>
</body></html>
